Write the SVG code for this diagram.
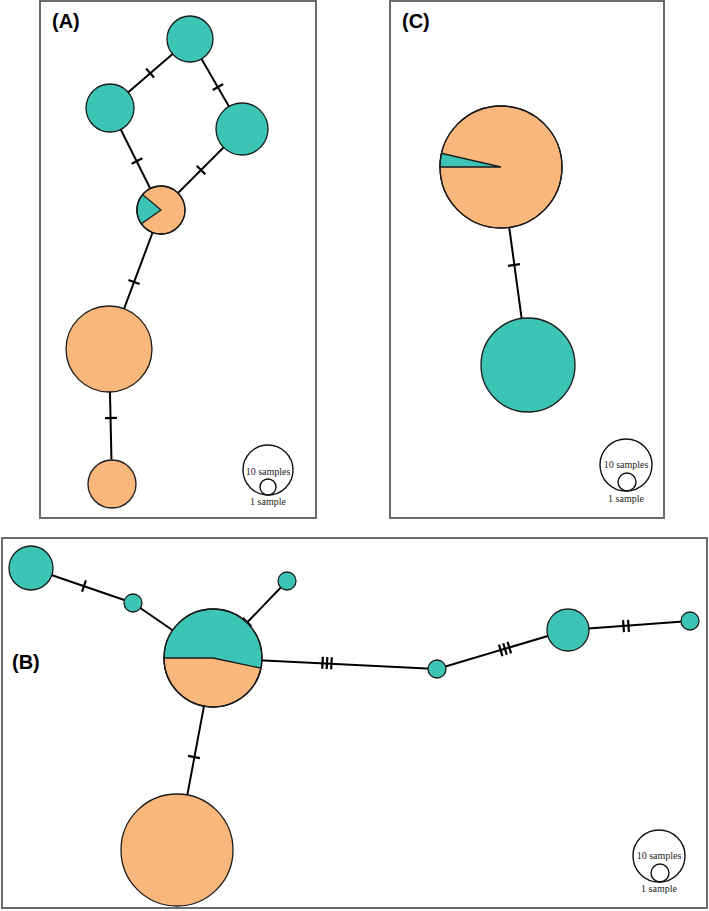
<svg xmlns="http://www.w3.org/2000/svg" xmlns:xlink="http://www.w3.org/1999/xlink" width="709" height="911" viewBox="0 0 709 911">
<style>
.frame{fill:#fff;stroke:#6b6b6b;stroke-width:2}
.edge{stroke:#000;stroke-width:2;fill:none}
.hatch{stroke:#000;stroke-width:2.2}
.teal{fill:#3CC4B4;stroke:#1a1a1a;stroke-width:1.3}
.orange{fill:#F9B77C;stroke:#1a1a1a;stroke-width:1.3}
.ring{fill:none;stroke:#1a1a1a;stroke-width:1.3}
.leg{fill:none;stroke:#111;stroke-width:1.4}
.lbl{font-family:"Liberation Sans",Arial,sans-serif;font-weight:bold;font-size:20px;fill:#000}
.lt{font-family:"Liberation Serif","Times New Roman",serif;font-size:10px;fill:#222;text-anchor:middle}
</style>
<defs>
<line id="h1" class="hatch" x1="0" y1="-6" x2="0" y2="6"/>
<g id="h2"><line class="hatch" x1="-2.5" y1="-6" x2="-2.5" y2="6"/><line class="hatch" x1="2.5" y1="-6" x2="2.5" y2="6"/></g>
<g id="h3"><line class="hatch" x1="-4.5" y1="-6" x2="-4.5" y2="6"/><line class="hatch" x1="0" y1="-6" x2="0" y2="6"/><line class="hatch" x1="4.5" y1="-6" x2="4.5" y2="6"/></g>
</defs>

<g id="frames">
<rect class="frame" x="40" y="1" width="276" height="517"/>
<rect class="frame" x="390" y="1" width="274" height="517"/>
<rect class="frame" x="2" y="538" width="705" height="370"/>
</g>

<g id="labels">
<text class="lbl" x="52" y="28">(A)</text>
<text class="lbl" x="402" y="28">(C)</text>
<text class="lbl" x="12" y="669">(B)</text>
</g>

<g id="connectors">
<line class="edge" x1="190" y1="39" x2="110" y2="108"/>
<line class="edge" x1="190" y1="39" x2="242" y2="129"/>
<line class="edge" x1="110" y1="108" x2="161" y2="210"/>
<line class="edge" x1="242" y1="129" x2="161" y2="210"/>
<line class="edge" x1="161" y1="210" x2="109" y2="349"/>
<line class="edge" x1="109" y1="349" x2="112" y2="484"/>
<use xlink:href="#h1" transform="translate(150,73) rotate(139)"/>
<use xlink:href="#h1" transform="translate(218,87) rotate(60)"/>
<use xlink:href="#h1" transform="translate(137,161) rotate(63)"/>
<use xlink:href="#h1" transform="translate(201,170) rotate(135)"/>
<use xlink:href="#h1" transform="translate(134,282) rotate(110)"/>
<use xlink:href="#h1" transform="translate(111,418) rotate(89)"/>
<line class="edge" x1="501" y1="167" x2="528" y2="365"/>
<use xlink:href="#h1" transform="translate(514,265) rotate(82)"/>
<line class="edge" x1="31" y1="568" x2="133" y2="603"/>
<line class="edge" x1="133" y1="603" x2="213" y2="658"/>
<line class="edge" x1="213" y1="658" x2="287" y2="581"/>
<line class="edge" x1="213" y1="658" x2="437" y2="669"/>
<line class="edge" x1="437" y1="669" x2="568" y2="630"/>
<line class="edge" x1="568" y1="630" x2="690" y2="621"/>
<line class="edge" x1="213" y1="658" x2="177" y2="850"/>
<use xlink:href="#h1" transform="translate(84,586) rotate(19)"/>
<use xlink:href="#h1" transform="translate(247,622) rotate(-46)"/>
<use xlink:href="#h3" transform="translate(327,663) rotate(3)"/>
<use xlink:href="#h3" transform="translate(505,649) rotate(-17)"/>
<use xlink:href="#h2" transform="translate(626,626) rotate(-4)"/>
<use xlink:href="#h1" transform="translate(194,757) rotate(100)"/>
</g>

<g id="a-top"><circle class="teal" cx="190" cy="39" r="23"/></g>
<g id="a-left"><circle class="teal" cx="110" cy="108" r="24"/></g>
<g id="a-right"><circle class="teal" cx="242" cy="129" r="26"/></g>
<g id="a-pie">
<circle class="orange" cx="161" cy="210" r="24"/>
<path class="teal" d="M161,210 L142.6,194.6 A24,24 0 0,0 141.3,223.8 Z"/>
<circle class="ring" cx="161" cy="210" r="24"/>
</g>
<g id="a-big"><circle class="orange" cx="109" cy="349" r="43"/></g>
<g id="a-bottom"><circle class="orange" cx="112" cy="484" r="24"/></g>
<g id="a-legend">
<circle class="leg" cx="268" cy="470" r="25"/>
<circle class="leg" cx="268" cy="487" r="8"/>
<text class="lt" x="268" y="475">10 samples</text>
<text class="lt" x="268" y="505">1 sample</text>
</g>

<g id="c-pie">
<circle class="orange" cx="501" cy="167" r="61"/>
<path class="teal" d="M501,167 L440,167 A61,61 0 0,1 441.6,153.3 Z"/>
<circle class="ring" cx="501" cy="167" r="61"/>
</g>
<g id="c-teal"><circle class="teal" cx="528" cy="365" r="47"/></g>
<g id="c-legend">
<circle class="leg" cx="626" cy="465" r="26"/>
<circle class="leg" cx="627" cy="482" r="9"/>
<text class="lt" x="626" y="468">10 samples</text>
<text class="lt" x="626" y="502">1 sample</text>
</g>

<g id="b-topleft"><circle class="teal" cx="31" cy="568" r="22"/></g>
<g id="b-small1"><circle class="teal" cx="133" cy="603" r="9"/></g>
<g id="b-small2"><circle class="teal" cx="287" cy="581" r="9"/></g>
<g id="b-pie">
<circle class="teal" cx="213" cy="658" r="49"/>
<path class="orange" d="M213,658 L260.9,668.2 A49,49 0 0,1 164,658 Z"/>
<circle class="ring" cx="213" cy="658" r="49"/>
</g>
<g id="b-mid"><circle class="teal" cx="437" cy="669" r="9"/></g>
<g id="b-right"><circle class="teal" cx="568" cy="630" r="21"/></g>
<g id="b-far"><circle class="teal" cx="690" cy="621" r="9"/></g>
<g id="b-bottom"><circle class="orange" cx="177" cy="850" r="56"/></g>
<g id="b-legend">
<circle class="leg" cx="659" cy="856" r="26"/>
<circle class="leg" cx="660" cy="873" r="9"/>
<text class="lt" x="659" y="859">10 samples</text>
<text class="lt" x="659" y="892">1 sample</text>
</g>
</svg>
